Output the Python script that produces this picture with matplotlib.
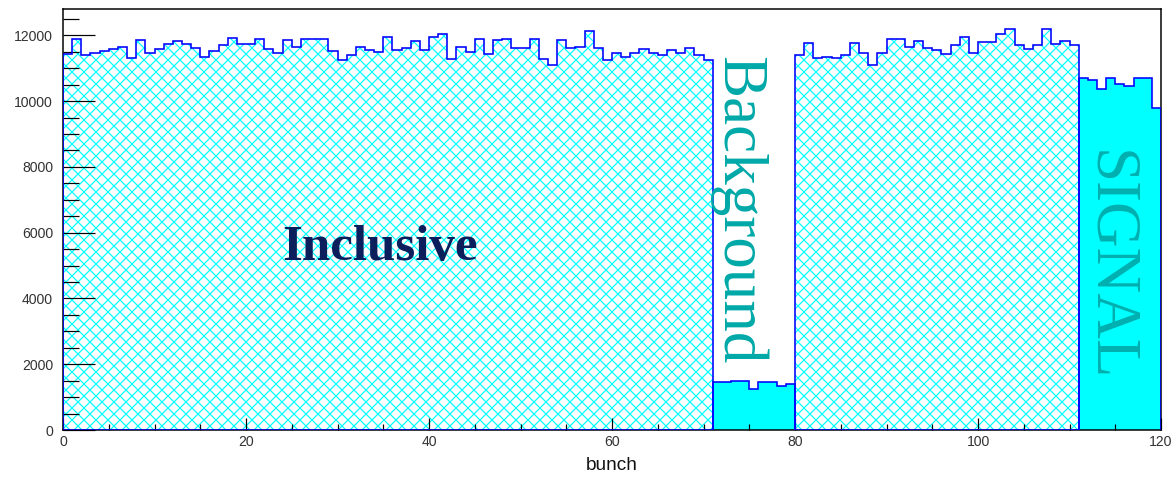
""" Bunch distribution histogram: inclusive, background and signal bunches
    drawn ROOT-style with matplotlib
"""

# import library
import numpy as np
import matplotlib
matplotlib.use('Agg')
import matplotlib.pyplot as plt
from matplotlib.ticker import MultipleLocator

# bin contents, one value per bunch
inclusive_a = [11430, 11890, 11410, 11460, 11520, 11590, 11645, 11320, 11860, 11460,
               11570, 11750, 11840, 11730, 11620, 11330, 11520, 11710, 11925, 11730,
               11730, 11890, 11570, 11460, 11850, 11645, 11890, 11890, 11890, 11520,
               11250, 11390, 11645, 11540, 11500, 11950, 11540, 11600, 11840, 11540,
               11950, 12050, 11280, 11645, 11500, 11890, 11430, 11860, 11890, 11600,
               11600, 11890, 11280, 11110, 11860, 11600, 11645, 12140, 11600, 11250,
               11460, 11355, 11460, 11570, 11460, 11410, 11540, 11460, 11620, 11410,
               11250]
background = [1450, 1450, 1500, 1500, 1255, 1450, 1450, 1350, 1400]
inclusive_b = [11410, 11760, 11300, 11330, 11300, 11410, 11760, 11460, 11110, 11460,
               11890, 11890, 11645, 11840, 11600, 11540, 11430, 11710, 11950, 11460,
               11785, 11785, 12030, 12200, 11710, 11570, 11710, 12200, 11730, 11840,
               11710]
signal = [10710, 10656, 10365, 10710, 10530, 10460, 10710, 10710, 9800]

# first bunch of each segment
start_a, start_bkg, start_b, start_sig = 0, 71, 80, 111

hatch_col = '#00ffff'
line_col = '#0000ff'

plt.rcParams['hatch.linewidth'] = 1.2

# 72 dpi so hatch and fonts map 1:1 to pixels
fig = plt.figure(figsize=(1176 / 72, 483 / 72), dpi=72)
ax = fig.add_axes([63 / 1176, 53 / 483, 1098 / 1176, 421 / 483])


def draw_segment(vals, first, filled):
    edges = np.arange(first, first + len(vals) + 1)
    if filled:
        ax.stairs(vals, edges, fill=True, facecolor=hatch_col, edgecolor=hatch_col, lw=0)
    else:
        ax.stairs(vals, edges, fill=True, facecolor='white', edgecolor=hatch_col,
                  hatch='xx', lw=0)
        ax.hlines(0, edges[0], edges[-1], color=line_col, lw=2.5, zorder=3)
    ax.stairs(vals, edges, color=line_col, lw=1.6, zorder=3)


draw_segment(inclusive_a, start_a, False)
draw_segment(background, start_bkg, True)
draw_segment(inclusive_b, start_b, False)
draw_segment(signal, start_sig, True)

# axes range and ticks
ax.set_xlim(0, 120)
ax.set_ylim(0, 12800)
ax.xaxis.set_major_locator(MultipleLocator(20))
ax.xaxis.set_minor_locator(MultipleLocator(5))
ax.yaxis.set_major_locator(MultipleLocator(2000))
ax.yaxis.set_minor_locator(MultipleLocator(500))
ax.tick_params(axis='both', which='both', direction='in', color='black', width=1.2,
               labelcolor='#333333', labelsize=14)
ax.tick_params(axis='x', which='major', length=12, pad=5)
ax.tick_params(axis='x', which='minor', length=6)
ax.tick_params(axis='y', which='major', length=32, pad=10)
ax.tick_params(axis='y', which='minor', length=16)
for lab in ax.get_xticklabels() + ax.get_yticklabels():
    lab.set_fontfamily('Liberation Sans')
for sp in ax.spines.values():
    sp.set_linewidth(1.5)

ax.set_xlabel('bunch', fontsize=19, fontfamily='Liberation Sans', color='#111111',
              labelpad=8)

# labels on the plot
ax.text(34.6, 5530, 'Inclusive', fontsize=51, fontweight='bold',
        fontfamily='Liberation Serif', color='#0b1f5c', ha='center', va='center')
ax.text(73.7, 6690, 'Background', fontsize=63, rotation=-90,
        fontfamily='Liberation Serif', color='#00a8a8', ha='center', va='center')
ax.text(114.2, 5000, 'SIGNAL', fontsize=63, rotation=-90,
        fontfamily='Liberation Serif', color='#00b0b0', ha='center', va='center')

# saving figure
fig.savefig('out.png', dpi=72)
